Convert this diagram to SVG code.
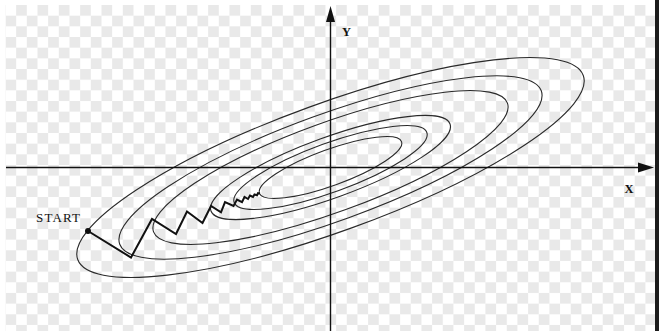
<svg xmlns="http://www.w3.org/2000/svg" width="659" height="331" viewBox="0 0 659 331">
  <style>
    .contour { fill: none; stroke: #2a2a2a; stroke-width: 1.1; }
    .axis { stroke: #111; stroke-width: 1.4; fill: none; }
    .head { fill: #111; stroke: none; }
    .lbl { font-family: "Liberation Serif", "DejaVu Serif", serif; fill: #111; }
    .path { fill: none; stroke: #111; stroke-width: 2; stroke-linejoin: miter; }
  </style>
  <defs>
    <pattern id="checker" patternUnits="userSpaceOnUse" x="5.5" y="5" width="21.33" height="21.33">
      <rect x="0" y="0" width="21.33" height="21.33" fill="#ffffff"/>
      <rect x="10.67" y="0" width="10.67" height="10.67" fill="#e9e9e9"/>
      <rect x="0" y="10.67" width="10.67" height="10.67" fill="#e9e9e9"/>
    </pattern>
  </defs>
  <rect id="bg" x="0" y="0" width="659" height="331" fill="#ffffff"/>
  <rect id="checkerboard" x="5.5" y="5" width="653.5" height="326" fill="url(#checker)"/>
  <rect id="edge" x="655" y="0" width="4" height="331" fill="#1c1c1c"/>

  <g id="contours" transform="translate(330.5,167.5) rotate(-20)">
    <ellipse class="contour" cx="0" cy="0" rx="269" ry="64"/>
    <ellipse class="contour" cx="0" cy="0" rx="224.3" ry="53.4"/>
    <ellipse class="contour" cx="0" cy="0" rx="188.3" ry="44.8"/>
    <ellipse class="contour" cx="0" cy="0" rx="127.2" ry="30.3"/>
    <ellipse class="contour" cx="0" cy="0" rx="102.5" ry="24.4"/>
    <ellipse class="contour" cx="0" cy="0" rx="75.6" ry="18"/>
  </g>

  <g id="axes">
    <line class="axis" x1="6" y1="167.5" x2="640" y2="167.5"/>
    <polygon class="head" points="638,162.5 654,167.5 638,172.5"/>
    <line class="axis" x1="330.5" y1="20" x2="330.5" y2="331"/>
    <polygon class="head" points="326,22 330.5,6 335,22"/>
    <text class="lbl" x="346.5" y="35.5" font-size="12.5" font-weight="bold" text-anchor="middle">Y</text>
    <text class="lbl" x="629" y="193" font-size="12.5" font-weight="bold" text-anchor="middle">X</text>
  </g>

  <g id="descent">
    <polyline class="path" points="88,231 131,257.5 152,219 176,234 187,211.5 202.5,223 211,206 221,212.3 225,202.2 233.5,206 237,199.5 242,202.2 244.5,197 248,199 250,195.5 253,197 254.5,194.5 257,195.2 258,193.2 260,193.5"/>
    <circle cx="88" cy="231" r="3" fill="#111"/>
    <text class="lbl" x="36" y="221.5" font-size="13" textLength="44" lengthAdjust="spacing">START</text>
  </g>
</svg>
